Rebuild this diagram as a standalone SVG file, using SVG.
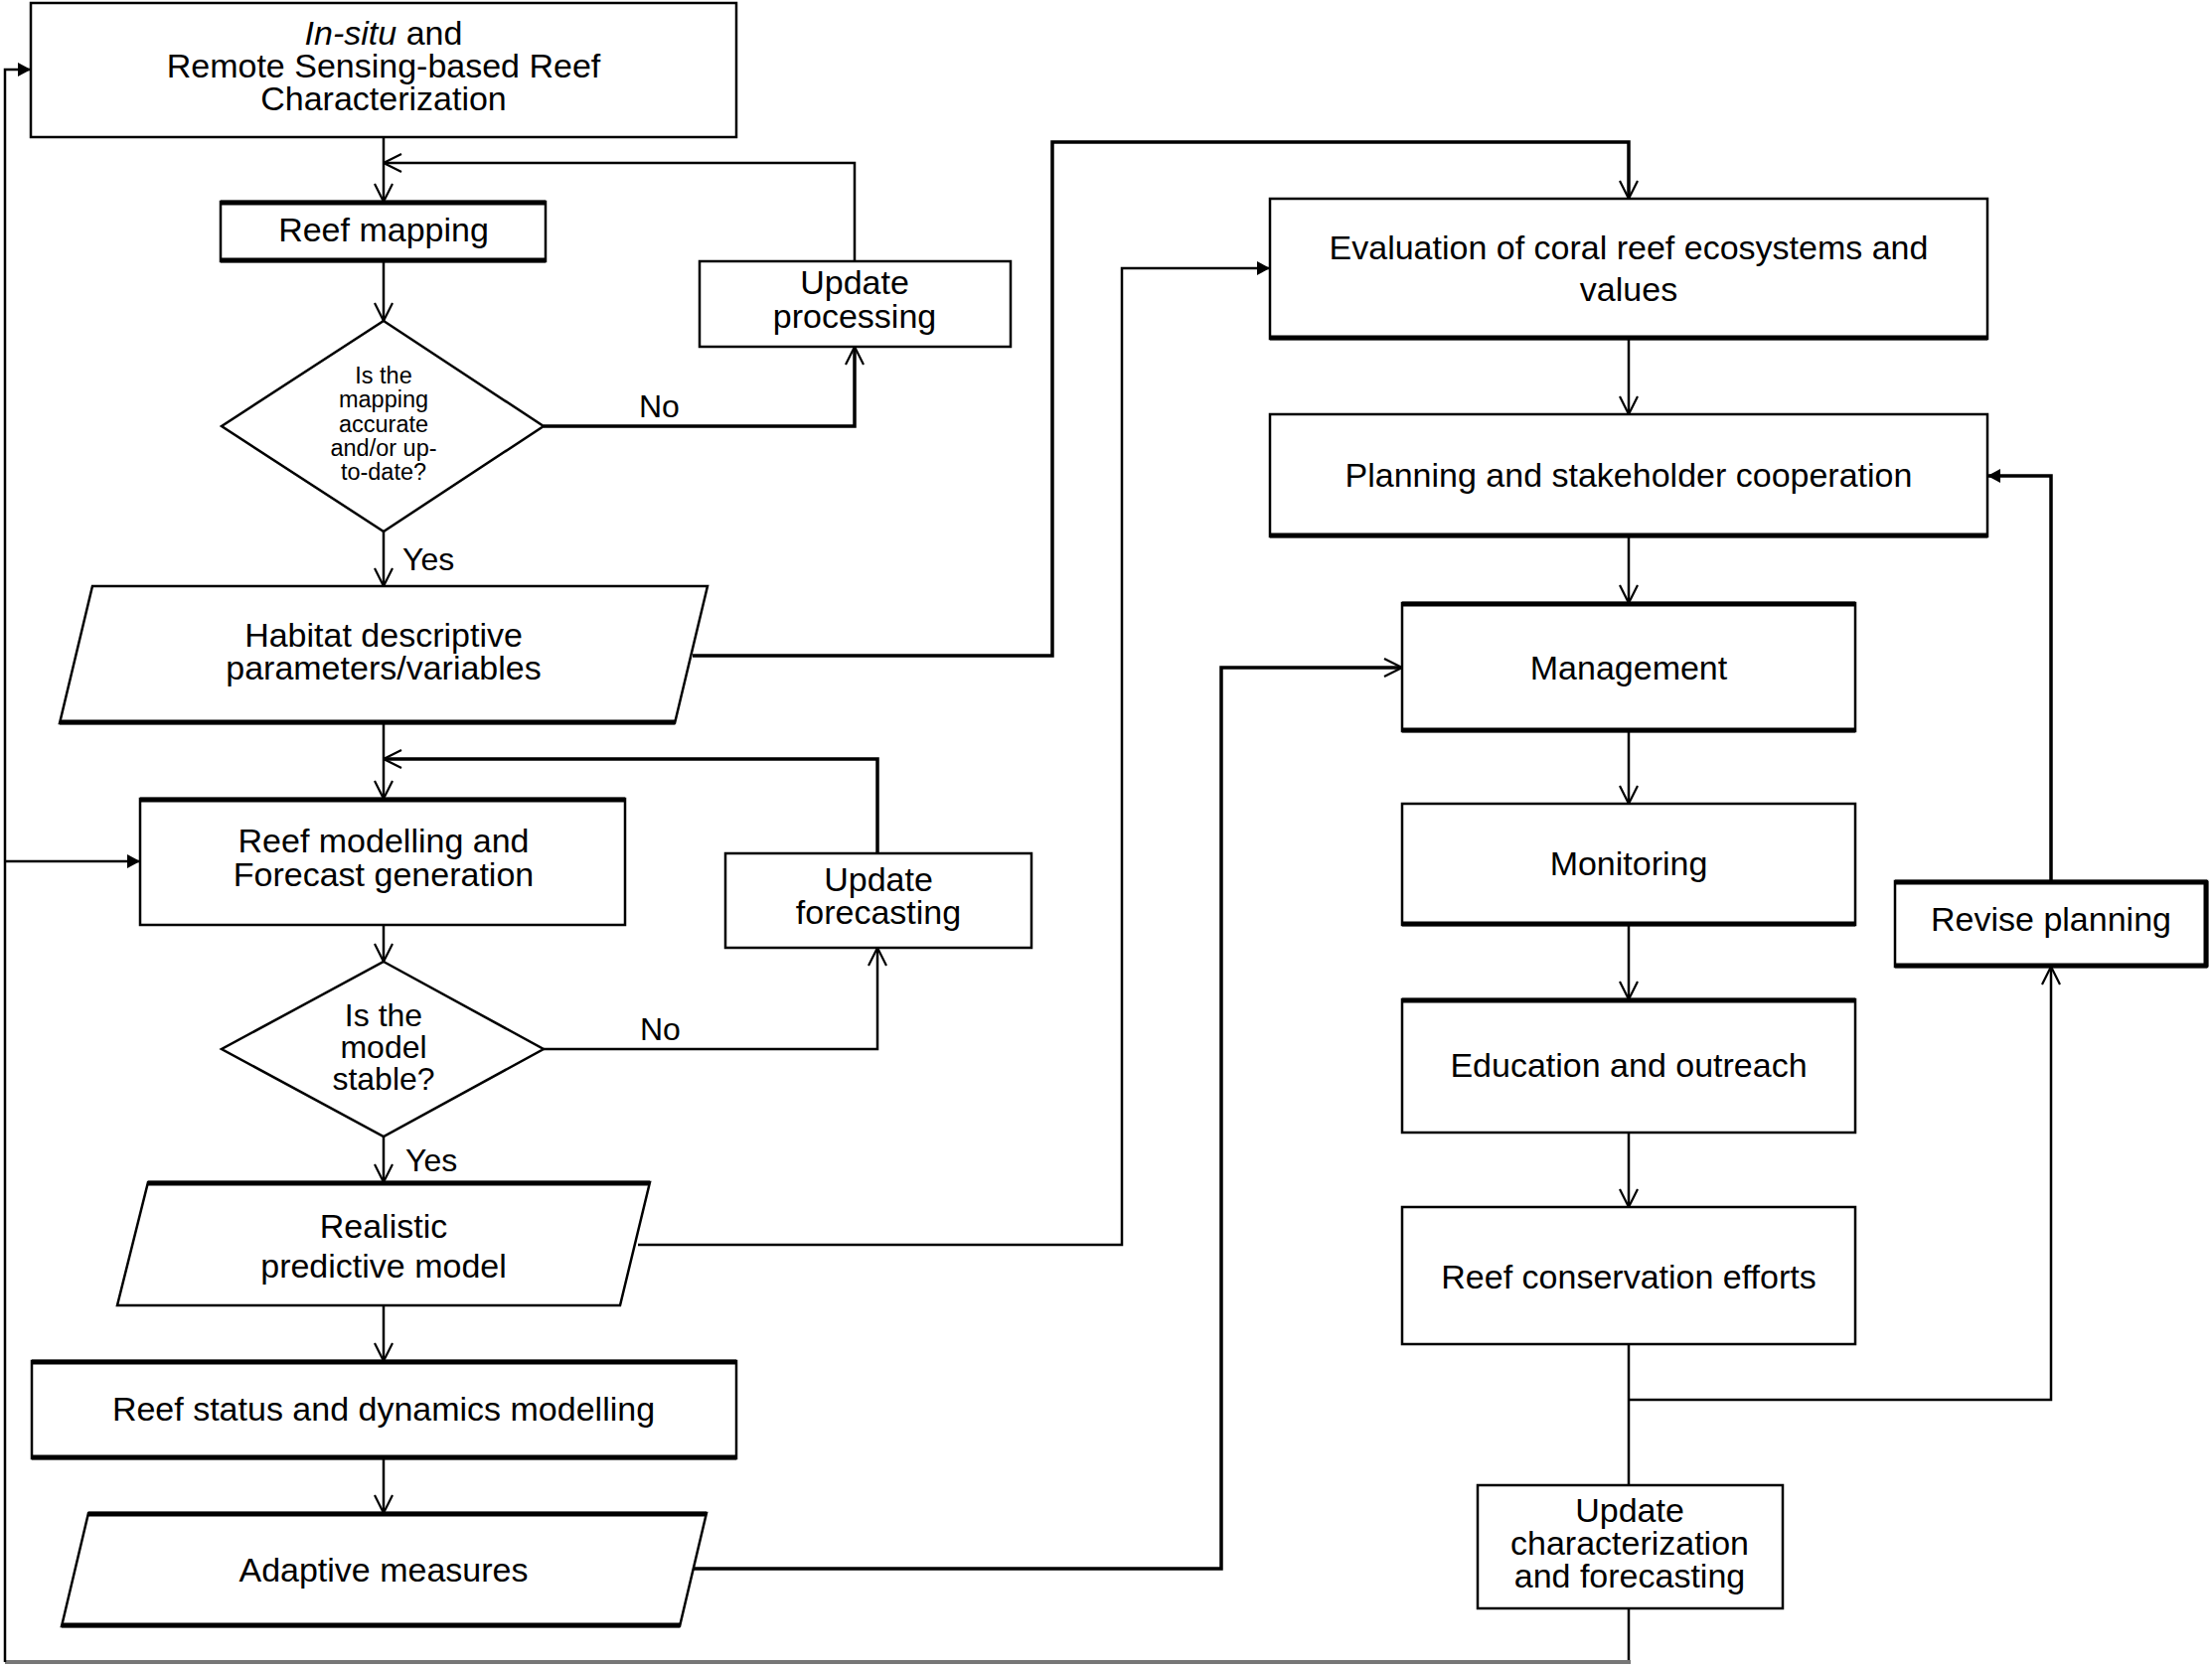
<svg xmlns="http://www.w3.org/2000/svg" width="2226" height="1678" viewBox="0 0 2226 1678">
<style>
.box{fill:#fff;stroke:#000;stroke-width:2.5}
.thk{stroke:#000;stroke-width:5;fill:none}
.t{font-family:"Liberation Sans",Arial,sans-serif;font-size:34px;fill:#000;text-anchor:middle}
.s{font-family:"Liberation Sans",Arial,sans-serif;font-size:23.5px;fill:#000;text-anchor:middle}
.m{font-family:"Liberation Sans",Arial,sans-serif;font-size:32px;fill:#000;text-anchor:middle}
.l{font-family:"Liberation Sans",Arial,sans-serif;font-size:32px;fill:#000}
.c{fill:none;stroke:#000;stroke-width:2.5}
.c3{fill:none;stroke:#000;stroke-width:3.5}
.o{marker-end:url(#open)}
.f{marker-end:url(#fill)}
</style>
<defs>
<marker id="open" markerUnits="userSpaceOnUse" viewBox="0 0 20 20" markerWidth="20" markerHeight="20" refX="19" refY="10" orient="auto">
<path d="M1,1 L19,10 L1,19" fill="none" stroke="#000" stroke-width="2.2"/>
</marker>
<marker id="fill" markerUnits="userSpaceOnUse" viewBox="0 0 14 16" markerWidth="14" markerHeight="16" refX="13" refY="8" orient="auto">
<path d="M0,1 L13,8 L0,15 z" fill="#000"/>
</marker>
</defs>
<rect width="2226" height="1678" fill="#fff"/>

<g id="connectors">
<path class="c o" d="M386,138 V203"/>
<path class="c o" d="M860,263 V164 H386"/>
<path class="c o" d="M386,263 V323"/>
<path class="c3 o" d="M547,429 H860 V349"/>
<path class="c o" d="M386,535 V590"/>
<path class="c3 o" d="M697,660 H1059 V143 H1639 V200"/>
<path class="c o" d="M386,728 V804"/>
<path class="c3 o" d="M883,859 V764 H386"/>
<path class="c o" d="M386,931 V968"/>
<path class="c o" d="M547,1056 H883 V954"/>
<path class="c o" d="M386,1144 V1190"/>
<path class="c f" d="M642,1253 H1129 V270 H1278"/>
<path class="c o" d="M386,1314 V1370"/>
<path class="c o" d="M386,1468 V1523"/>
<path class="c3 o" d="M698,1579 H1229 V672 H1411"/>
<path class="c o" d="M1639,341 V417"/>
<path class="c o" d="M1639,540 V607"/>
<path class="c o" d="M1639,736 V809"/>
<path class="c o" d="M1639,931 V1006"/>
<path class="c o" d="M1639,1140 V1215"/>
<path class="c" d="M1639,1353 V1495"/>
<path class="c o" d="M1639,1409 H2064 V973"/>
<path class="c3 f" d="M2064,887 V479 H2000"/>
<path class="c" d="M1639,1619 V1673"/>
<path fill="none" stroke="#777" stroke-width="4" d="M1641,1673 H5"/>
<path class="c f" d="M5,1673 V70 H31"/>
<path class="c f" d="M5,867 H141"/>
</g>

<g id="n-top">
<rect class="box" x="31" y="3" width="710" height="135"/>
<text class="t" x="386" y="45"><tspan font-style="italic">In-situ</tspan> and</text>
<text class="t" x="386" y="78">Remote Sensing-based Reef</text>
<text class="t" x="386" y="111">Characterization</text>
</g>

<g id="n-mapping">
<rect class="box" x="222" y="203" width="327" height="60"/>
<path class="thk" d="M222,204 H549 M222,262 H549"/>
<text class="t" x="386" y="243">Reef mapping</text>
</g>

<g id="n-dec1">
<polygon class="box" points="386,323 547,429 386,535 223,429"/>
<text class="s" x="386" y="386">Is the</text>
<text class="s" x="386" y="410">mapping</text>
<text class="s" x="386" y="435">accurate</text>
<text class="s" x="386" y="459">and/or up-</text>
<text class="s" x="386" y="483">to-date?</text>
</g>

<g id="n-updproc">
<rect class="box" x="704" y="263" width="313" height="86"/>
<text class="t" x="860" y="296">Update</text>
<text class="t" x="860" y="330">processing</text>
</g>

<g id="n-habitat">
<polygon class="box" points="93,590 712,590 679,728 60,728"/>
<path class="thk" d="M60,727 H679"/>
<text class="t" x="386" y="651">Habitat descriptive</text>
<text class="t" x="386" y="684">parameters/variables</text>
</g>

<g id="n-modelling">
<rect class="box" x="141" y="804" width="488" height="127"/>
<path class="thk" d="M141,805 H629"/>
<text class="t" x="386" y="858">Reef modelling and</text>
<text class="t" x="386" y="892">Forecast generation</text>
</g>

<g id="n-updfc">
<rect class="box" x="730" y="859" width="308" height="95" stroke-width="3.5"/>
<text class="t" x="884" y="897">Update</text>
<text class="t" x="884" y="930">forecasting</text>
</g>

<g id="n-dec2">
<polygon class="box" points="386,968 547,1056 386,1144 223,1056"/>
<text class="m" x="386" y="1033">Is the</text>
<text class="m" x="386" y="1065">model</text>
<text class="m" x="386" y="1097">stable?</text>
</g>

<g id="n-realistic">
<polygon class="box" points="149,1190 654,1190 624,1314 118,1314"/>
<path class="thk" d="M149,1191 H654"/>
<text class="t" x="386" y="1246">Realistic</text>
<text class="t" x="386" y="1286">predictive model</text>
</g>

<g id="n-status">
<rect class="box" x="32" y="1370" width="709" height="98"/>
<path class="thk" d="M32,1371 H741 M32,1467 H741"/>
<text class="t" x="386" y="1430">Reef status and dynamics modelling</text>
</g>

<g id="n-adaptive">
<polygon class="box" points="89,1523 711,1523 684,1637 62,1637"/>
<path class="thk" d="M89,1524 H711 M62,1636 H684"/>
<text class="t" x="386" y="1592">Adaptive measures</text>
</g>

<g id="n-eval">
<rect class="box" x="1278" y="200" width="722" height="141"/>
<path class="thk" d="M1278,340 H2000"/>
<text class="t" x="1639" y="261">Evaluation of coral reef ecosystems and</text>
<text class="t" x="1639" y="303">values</text>
</g>

<g id="n-planning">
<rect class="box" x="1278" y="417" width="722" height="123"/>
<path class="thk" d="M1278,539 H2000"/>
<text class="t" x="1639" y="490">Planning and stakeholder cooperation</text>
</g>

<g id="n-mgmt">
<rect class="box" x="1411" y="607" width="456" height="129"/>
<path class="thk" d="M1411,608 H1867 M1411,735 H1867"/>
<text class="t" x="1639" y="684">Management</text>
</g>

<g id="n-monitoring">
<rect class="box" x="1411" y="809" width="456" height="122"/>
<path class="thk" d="M1411,930 H1867"/>
<text class="t" x="1639" y="881">Monitoring</text>
</g>

<g id="n-education">
<rect class="box" x="1411" y="1006" width="456" height="134"/>
<path class="thk" d="M1411,1007 H1867"/>
<text class="t" x="1639" y="1084">Education and outreach</text>
</g>

<g id="n-conservation">
<rect class="box" x="1411" y="1215" width="456" height="138"/>
<text class="t" x="1639" y="1297">Reef conservation efforts</text>
</g>

<g id="n-revise">
<rect class="box" x="1907" y="887" width="314" height="86"/>
<path class="thk" d="M1907,888 H2221 M1907,972 H2221 M2220,887 V973"/>
<text class="t" x="2064" y="937">Revise planning</text>
</g>

<g id="n-updchar">
<rect class="box" x="1487" y="1495" width="307" height="124" stroke-width="4.5"/>
<text class="t" x="1640" y="1532">Update</text>
<text class="t" x="1640" y="1565">characterization</text>
<text class="t" x="1640" y="1598">and forecasting</text>
</g>

<g id="labels">
<text class="l" x="643" y="420">No</text>
<text class="l" x="405" y="574">Yes</text>
<text class="l" x="644" y="1047">No</text>
<text class="l" x="408" y="1179">Yes</text>
</g>
</svg>
